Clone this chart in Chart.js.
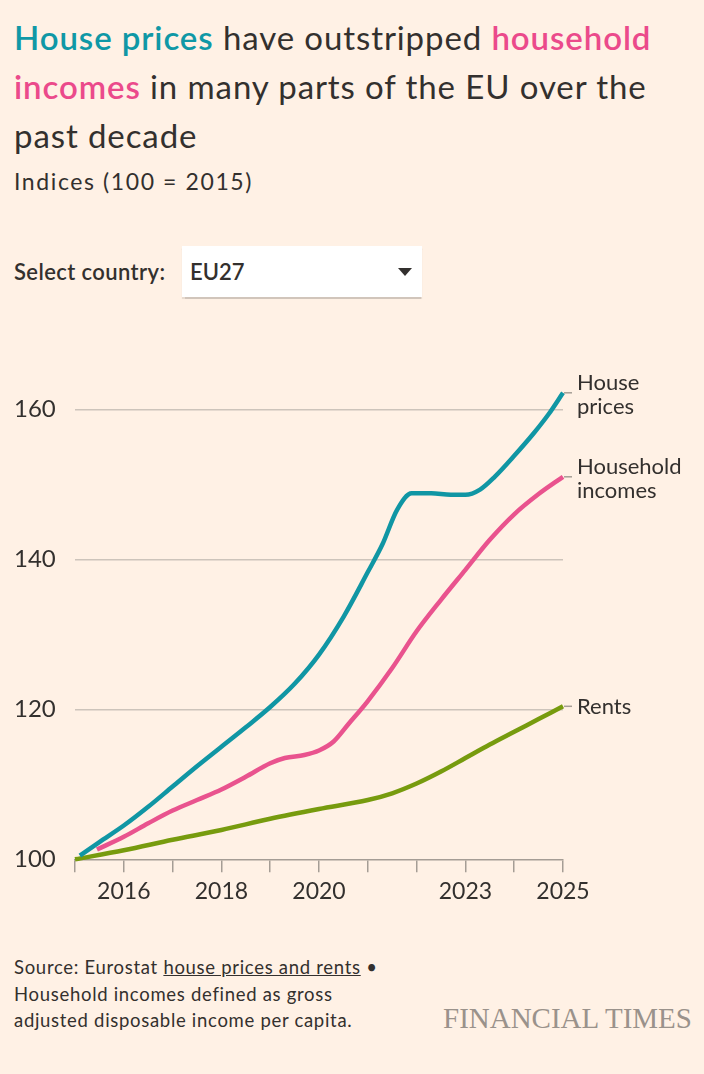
<!DOCTYPE html>
<html>
<head>
<meta charset="utf-8">
<script src="https://cdn.jsdelivr.net/npm/chart.js@4"></script>
<style>
  html, body { margin:0; padding:0; background:#fff1e5; }
  body { width:704px; height:1074px; position:relative; overflow:hidden; font-family:Lato, "Open Sans", sans-serif; color:#33302e; }
  .title { position:absolute; left:14px; top:12.7px; width:682px; font-size:33px; line-height:49px; letter-spacing:0.9px; color:#33302e; }
  .teal { color:#0f98a6; font-weight:600; }
  .pink { color:#eb4a8b; font-weight:600; }
  .sub { position:absolute; left:14px; top:169.3px; font-size:23px; line-height:25px; letter-spacing:1.6px; color:#33302e; white-space:nowrap; }
  .sel-label { position:absolute; left:14px; top:258.5px; font-size:22px; font-weight:600; line-height:26px; letter-spacing:0.4px; white-space:nowrap; }
  .sel-box { position:absolute; left:182px; top:246px; width:240px; height:51px; background:#fff; box-shadow:0 1.5px 1px rgba(0,0,0,0.18); }
  .sel-box span { position:absolute; left:8px; top:12.5px; font-size:22px; font-weight:600; line-height:26px; }
  .tri { position:absolute; left:216px; top:22px; width:0; height:0; border-left:7px solid transparent; border-right:7px solid transparent; border-top:8px solid #33302e; }
  #wrap { position:absolute; left:0; top:300px; width:704px; height:620px; }
  .src { position:absolute; left:14px; top:954px; font-size:18.5px; line-height:26.5px; letter-spacing:0.7px; color:#33302e; white-space:nowrap; }
  .src u { text-decoration:underline; }
  .ft { position:absolute; left:443px; top:1002px; font-family:"Liberation Serif", "DejaVu Serif", serif; font-size:29px; line-height:32px; color:#9a928b; white-space:nowrap; }
</style>
</head>
<body>
<div class="title"><span class="teal">House prices</span> have outstripped <span class="pink">household incomes</span> in many parts of the EU over the past decade</div>
<div class="sub">Indices (100 = 2015)</div>
<div class="sel-label">Select country:</div>
<div class="sel-box"><span>EU27</span><div class="tri"></div></div>
<div id="wrap"><canvas id="c" width="704" height="620"></canvas></div>
<div class="src">Source: Eurostat <u>house prices and rents</u> •<br>Household incomes defined as gross<br>adjusted disposable income per capita.</div>
<div class="ft">FINANCIAL TIMES</div>
<script>
// ---- data ----
const houseYears  = [2015.1, 2015.5, 2016.0, 2016.5, 2017.0, 2017.5, 2018.0, 2018.5, 2019.0, 2019.5, 2020.0, 2020.5, 2021.0, 2021.3, 2021.6, 2021.9, 2022.3, 2022.7, 2023.0, 2023.3, 2023.6, 2024.0, 2024.4, 2024.7, 2025.0];
const houseValues = [100.5, 102.3, 104.5, 107.0, 109.7, 112.4, 115.0, 117.6, 120.3, 123.4, 127.3, 132.3, 138.3, 142.0, 146.6, 148.8, 148.8, 148.6, 148.6, 149.3, 151.0, 153.8, 156.8, 159.3, 162.2];

const incomeYears  = [2015.45, 2016.0, 2016.5, 2017.0, 2017.5, 2018.0, 2018.5, 2019.0, 2019.3, 2019.7, 2020.0, 2020.3, 2020.6, 2021.0, 2021.5, 2022.0, 2022.5, 2023.0, 2023.5, 2024.0, 2024.5, 2025.0];
const incomeValues = [101.3, 103.0, 104.8, 106.5, 107.9, 109.3, 111.0, 112.8, 113.5, 113.9, 114.5, 115.7, 118.0, 121.1, 125.5, 130.4, 134.6, 138.6, 142.6, 146.0, 148.7, 151.0];

const rentYears  = [2015.0, 2016.0, 2017.0, 2018.0, 2019.0, 2020.0, 2021.0, 2021.5, 2022.0, 2022.5, 2023.0, 2023.5, 2024.0, 2024.5, 2025.0];
const rentValues = [100.0, 101.2, 102.6, 103.9, 105.4, 106.7, 107.9, 108.8, 110.1, 111.7, 113.5, 115.3, 117.0, 118.7, 120.4];

const seriesNames = [["House", "prices"], ["Household", "incomes"], ["Rents"]];
const xTickLabels = [2016, 2018, 2020, 2023, 2025];
const yTickLabels = [100, 120, 140, 160];

const toXY = (xs, ys) => xs.map((x, i) => ({ x: x, y: ys[i] }));

Chart.defaults.font.family = "Lato, 'Open Sans', sans-serif";
Chart.defaults.color = '#33302e';

const endLabels = {
  id: 'endLabels',
  afterDatasetsDraw(chart) {
    const ctx = chart.ctx;
    const area = chart.chartArea;
    ctx.save();
    chart.data.datasets.forEach((ds, i) => {
      const meta = chart.getDatasetMeta(i);
      const last = meta.data[meta.data.length - 1];
      const y = last.y;
      ctx.strokeStyle = '#a59d95';
      ctx.lineWidth = 1.5;
      ctx.beginPath();
      ctx.moveTo(area.right + 1, y);
      ctx.lineTo(area.right + 9, y);
      ctx.stroke();
      const lines = seriesNames[i];
      ctx.fillStyle = '#33302e';
      ctx.font = "22px Lato, 'Open Sans', sans-serif";
      ctx.textAlign = 'left';
      ctx.textBaseline = 'middle';
      const lh = 24;
      const y0 = lines.length > 1 ? y - 10 : y + 1;
      lines.forEach((t, k) => ctx.fillText(t, 577, y0 + k * lh));
    });
    ctx.restore();
  }
};

new Chart(document.getElementById('c'), {
  type: 'line',
  data: {
    datasets: [
      { data: toXY(houseYears, houseValues), borderColor: '#1096a4', borderWidth: 4.5, pointRadius: 0, cubicInterpolationMode: 'monotone', fill: false },
      { data: toXY(incomeYears, incomeValues), borderColor: '#e9538e', borderWidth: 4.5, pointRadius: 0, cubicInterpolationMode: 'monotone', fill: false },
      { data: toXY(rentYears, rentValues), borderColor: '#779b0e', borderWidth: 4.5, pointRadius: 0, cubicInterpolationMode: 'monotone', fill: false }
    ]
  },
  options: {
    responsive: false,
    animation: false,
    devicePixelRatio: 1,
    clip: false,
    layout: { padding: { left: 14, right: 141, top: 64.3, bottom: 0 } },
    plugins: { legend: { display: false }, tooltip: { enabled: false } },
    scales: {
      x: {
        type: 'linear', min: 2015, max: 2025,
        afterFit(s) { s.height = 60.7; },
        ticks: {
          stepSize: 1, autoSkip: false, maxRotation: 0, padding: 5,
          font: { size: 23 }, color: '#33302e',
          callback: v => xTickLabels.includes(v) ? String(v) : ''
        },
        grid: { drawOnChartArea: false, drawTicks: true, tickLength: 13, color: '#a59d95', lineWidth: 1.5 },
        border: { display: true, color: '#a59d95', width: 1.5 }
      },
      y: {
        min: 100, max: 166,
        afterFit(s) { s.width = 61; },
        afterBuildTicks(s) { s.ticks = yTickLabels.map(v => ({ value: v })); },
        ticks: { crossAlign: 'far', padding: 0, font: { size: 24 }, color: '#33302e' },
        grid: { drawTicks: false, color: ctx => ctx.tick && ctx.tick.value === 100 ? 'rgba(0,0,0,0)' : '#cdc4bb', lineWidth: 1.5 },
        border: { display: false }
      }
    }
  },
  plugins: [endLabels]
});
</script>
</body>
</html>
